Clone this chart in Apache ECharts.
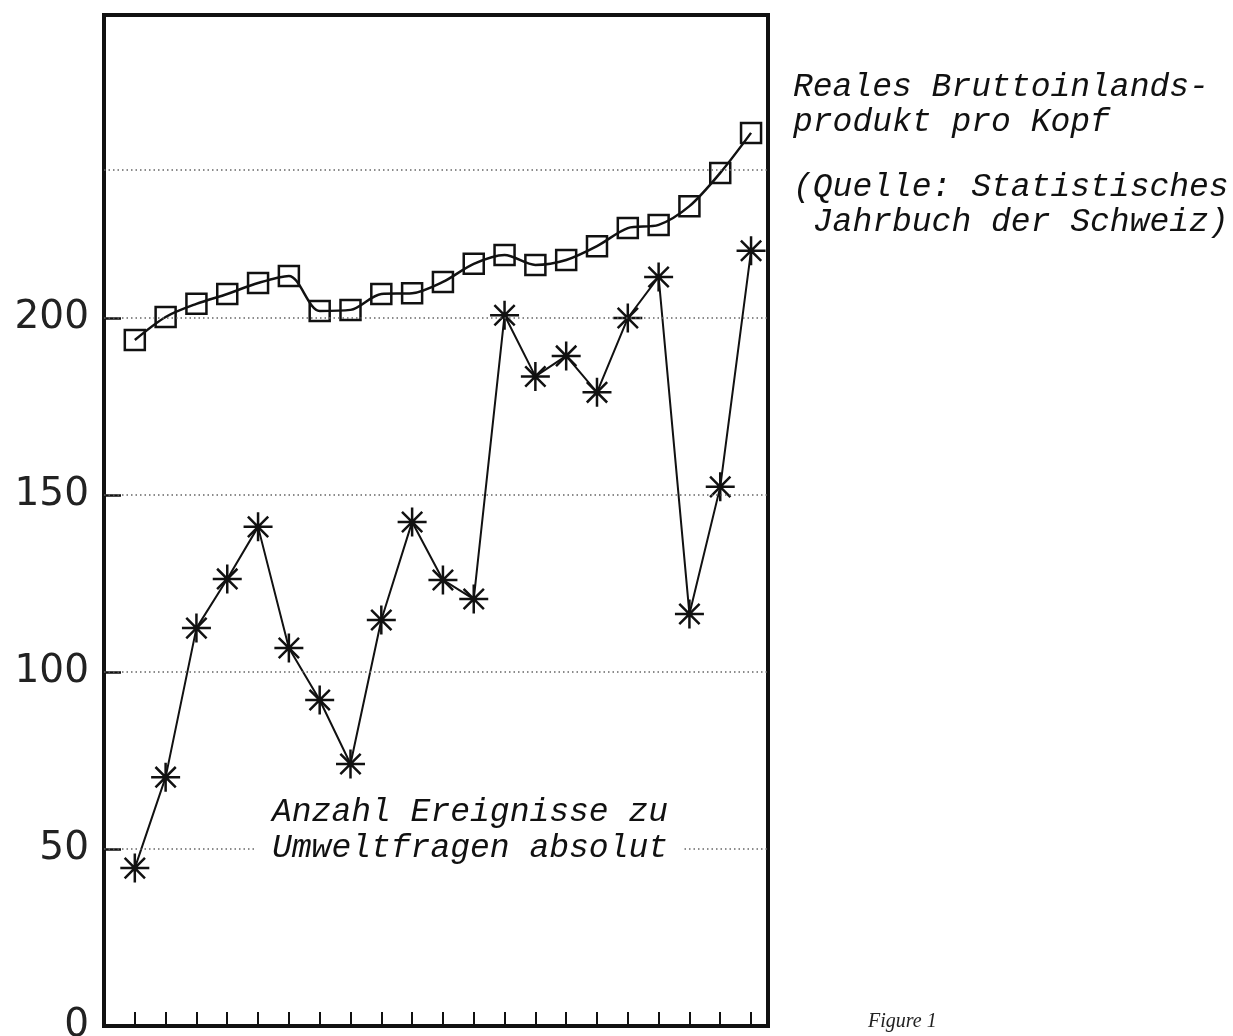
<!DOCTYPE html>
<html>
<head>
<meta charset="utf-8">
<script src="https://cdn.jsdelivr.net/npm/echarts@6/dist/echarts.min.js"></script>
<style>
  html, body { margin: 0; padding: 0; background: #fff; }
  #main { width: 1233px; height: 1036px; }
</style>
</head>
<body>
<div id="main"></div>
<script>
// x-Positionen (Jahre, fortlaufend nummeriert)
var jahre = [1, 2, 3, 4, 5, 6, 7, 8, 9, 10, 11, 12, 13, 14, 15, 16, 17, 18, 19, 20, 21];
// Reales BIP pro Kopf (Quadrate)
var bipProKopf = [193.8, 200.3, 204, 206.8, 209.9, 211.9, 202, 202.3, 206.8, 207, 210.2,
                  215.3, 217.8, 215, 216.4, 220.3, 225.4, 226.3, 231.6, 241, 252.3];
// Anzahl Ereignisse zu Umweltfragen (Sterne)
var ereignisse = [44.6, 70.3, 112.4, 126.3, 141, 106.8, 92.1, 74, 114.7, 142.4, 126,
                  120.6, 200.8, 183.5, 189.3, 179, 200, 211.6, 116.4, 152.3, 219];
// Achsenbeschriftung / Hilfslinien
var yLabels = [0, 50, 100, 150, 200];
var yTicks = [50, 100, 150, 200];
var xTicks = [0, 1, 2, 3, 4, 5, 6, 7, 8, 9, 10, 11, 12, 13, 14, 15, 16, 17, 18, 19, 20, 21];
var hilfsLinien = [50, 100, 150, 200, 242];

var myChart = echarts.init(document.getElementById('main'));

var monoFont = '"Liberation Mono", "DejaVu Sans Mono", monospace';
var stern = 'path://M0,-10L0,10M-10,0L10,0M-7,-7L7,7M-7,7L7,-7';

var option = {
    animation: false,
    backgroundColor: '#fff',
    grid: {
        left: 104,
        right: 465,
        top: 15,
        bottom: 10,
        outerBoundsMode: 'none',   // Gitter nicht wegen Beschriftung verkleinern
        show: true,
        borderColor: '#111',
        borderWidth: 4
    },
    xAxis: {
        type: 'value',
        min: 0,
        max: 21.55,
        interval: 1,
        axisLine: { show: true, lineStyle: { color: '#111', width: 4 } },
        axisTick: {
            show: true, inside: true, length: 14,
            customValues: xTicks,
            lineStyle: { color: '#111', width: 2 }
        },
        axisLabel: { show: false },
        splitLine: { show: false }
    },
    yAxis: {
        type: 'value',
        min: 0,
        max: 285.6,
        interval: 50,
        axisLine: { show: true, lineStyle: { color: '#111', width: 3 } },
        axisTick: {
            show: true, inside: true, length: 17,
            customValues: yTicks,
            lineStyle: { color: '#111', width: 2.5 }
        },
        axisLabel: {
            show: true,
            margin: 15,
            customValues: yLabels,
            color: '#222',
            fontFamily: '"DejaVu Sans", sans-serif',
            fontSize: 39,
            formatter: function (v) { return v > 200 ? '' : String(v); }
        },
        splitLine: { show: false }
    },
    series: [
        {
            name: 'Reales Bruttoinlandsprodukt pro Kopf',
            type: 'line',
            data: jahre.map(function (x, i) { return [x, bipProKopf[i]]; }),
            smooth: 0.3,
            symbol: 'rect',
            symbolSize: 20,
            lineStyle: { color: '#111', width: 2.5 },
            itemStyle: { color: 'rgba(0,0,0,0)', borderColor: '#111', borderWidth: 2.5 },
            emphasis: { disabled: true },
            z: 3
        },
        {
            name: 'Anzahl Ereignisse zu Umweltfragen absolut',
            type: 'line',
            data: jahre.map(function (x, i) { return [x, ereignisse[i]]; }),
            symbol: stern,
            symbolSize: 29,
            lineStyle: { color: '#111', width: 2 },
            itemStyle: { color: 'rgba(0,0,0,0)', borderColor: '#111', borderWidth: 2.5 },
            emphasis: { disabled: true },
            markLine: {
                silent: true,
                symbol: ['none', 'none'],
                label: { show: false },
                lineStyle: { color: '#666', type: [1.5, 3], width: 1.5 },
                data: hilfsLinien.map(function (v) { return { yAxis: v }; })
            },
            z: 3
        }
    ],
    graphic: [
        {
            type: 'text', left: 793, top: 70, z: 100,
            style: {
                text: 'Reales Bruttoinlands-\nprodukt pro Kopf',
                fontFamily: monoFont, fontStyle: 'italic', fontSize: 33,
                lineHeight: 35, fill: '#111'
            }
        },
        {
            type: 'text', left: 793, top: 170, z: 100,
            style: {
                text: '(Quelle: Statistisches\n Jahrbuch der Schweiz)',
                fontFamily: monoFont, fontStyle: 'italic', fontSize: 33,
                lineHeight: 35, fill: '#111'
            }
        },
        {
            type: 'text', left: 256, top: 794, z: 100,
            style: {
                text: 'Anzahl Ereignisse zu\nUmweltfragen absolut',
                fontFamily: monoFont, fontStyle: 'italic', fontSize: 33,
                lineHeight: 36, fill: '#111',
                backgroundColor: '#fff', padding: [0, 16]
            }
        },
        {
            type: 'text', left: 868, top: 1012, z: 100,
            style: {
                text: 'Figure 1',
                fontFamily: '"Liberation Serif", serif', fontStyle: 'italic', fontSize: 20,
                fill: '#222'
            }
        }
    ]
};

myChart.setOption(option);
</script>
</body>
</html>
